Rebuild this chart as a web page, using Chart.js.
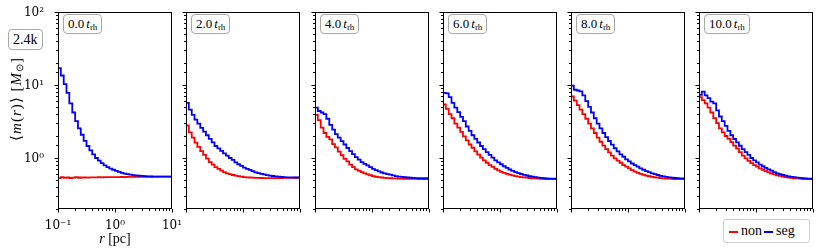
<!DOCTYPE html>
<html>
<head>
<meta charset="utf-8">
<script src="https://cdn.jsdelivr.net/npm/chart.js@4.4.1/dist/chart.umd.min.js"></script>
<style>
  html, body { margin: 0; padding: 0; background: #fff; }
  #fig { position: relative; width: 830px; height: 249px; overflow: hidden;
         font-family: 'Liberation Serif', serif; color: #000; }
  #fig canvas { position: absolute; top: 0; }
  .tag { position: absolute; top: 14px; height: 18px; line-height: 18px; padding: 0 4px;
         background: #fff; border: 1px solid #a8a8a8; border-radius: 4px;
         font-size: 13px; white-space: nowrap; }
  .tag sub { font-size: 9px; vertical-align: -2px; line-height: 0; }
  #nlabel { left: 8px; top: 29px; height: 19px; line-height: 19px; font-size: 14px; padding: 0 4px; }
  #ylabel { position: absolute; left: -44px; top: 91px; width: 120px; height: 16px; line-height: 16px;
            text-align: center; transform: rotate(-90deg); transform-origin: 50% 50%;
            font-size: 15px; letter-spacing: 1px; white-space: nowrap; }
  #ylabel sub { font-size: 10px; vertical-align: -2px; line-height: 0; }
  #xlabel { position: absolute; left: 75px; top: 231px; width: 80px; height: 16px; line-height: 16px;
            text-align: center; font-size: 14px; white-space: nowrap; }
  #legend { position: absolute; left: 723px; top: 219px; width: 82px; height: 22px; line-height: 22px;
            border: 1px solid #cfcfcf; border-radius: 3px; background: #fff; font-size: 14px;
            white-space: nowrap; padding-left: 3px; box-sizing: content-box; }
  #legend .sw { display: inline-block; width: 9px; height: 2px; vertical-align: middle; margin: 0 3px 0 2px; }
</style>
</head>
<body>
<div id="fig"></div>
<script>
// radial bin edges [pc]
const R_EDGES = [0.1, 0.112, 0.126, 0.141, 0.158, 0.178, 0.2, 0.224, 0.251, 0.282,
  0.316, 0.355, 0.398, 0.447, 0.501, 0.562, 0.631, 0.708, 0.794, 0.891,
  1, 1.12, 1.26, 1.41, 1.58, 1.78, 2, 2.24, 2.51, 2.82,
  3.16, 3.55, 3.98, 4.47, 5.01, 5.62, 6.31, 7.08, 7.94, 8.91, 10];

const TIMES = ['0.0', '2.0', '4.0', '6.0', '8.0', '10.0'];
const X_TICKS = [0.1, 1, 10];
const X_TICK_LABELS = ['10\u207B\u00B9', '10\u2070', '10\u00B9'];
const Y_TICKS = [1, 10, 100];
const Y_TICK_LABELS = ['10\u2070', '10\u00B9', '10\u00B2'];

// mean mass per bin, <m(r)> [Msun]
const NON_T0 = [0.54, 0.53, 0.545, 0.535, 0.54, 0.532, 0.538, 0.545, 0.536, 0.54,
  0.542, 0.538, 0.544, 0.541, 0.543, 0.545, 0.544, 0.546, 0.545, 0.547,
  0.546, 0.548, 0.547, 0.549, 0.548, 0.55, 0.55, 0.551, 0.551, 0.552,
  0.552, 0.553, 0.553, 0.553, 0.554, 0.554, 0.554, 0.554, 0.554, 0.554];
const SEG_T0 = [23, 17, 13.5, 10.3, 7.8, 5.6, 4.2, 3.2, 2.55, 2.08,
  1.72, 1.46, 1.27, 1.12, 1.0, 0.92, 0.85, 0.79, 0.75, 0.715,
  0.69, 0.665, 0.645, 0.627, 0.612, 0.6, 0.59, 0.582, 0.576, 0.571,
  0.567, 0.564, 0.561, 0.559, 0.557, 0.556, 0.555, 0.554, 0.554, 0.554];

const NON_T2 = [3.6, 2.8, 2.25, 1.9, 1.62, 1.42, 1.24, 1.1, 0.98, 0.88,
  0.81, 0.75, 0.71, 0.67, 0.64, 0.617, 0.6, 0.585, 0.573, 0.563,
  0.555, 0.548, 0.543, 0.54, 0.537, 0.535, 0.533, 0.532, 0.531, 0.53,
  0.53, 0.53, 0.531, 0.531, 0.532, 0.533, 0.534, 0.535, 0.535, 0.536];
const SEG_T2 = [6.9, 5.7, 4.6, 3.9, 3.35, 2.95, 2.58, 2.3, 2.05, 1.83,
  1.64, 1.46, 1.35, 1.25, 1.16, 1.08, 1.0, 0.94, 0.87, 0.82,
  0.78, 0.74, 0.71, 0.685, 0.66, 0.635, 0.62, 0.607, 0.595, 0.583,
  0.573, 0.566, 0.56, 0.555, 0.55, 0.547, 0.544, 0.542, 0.541, 0.54];

const NON_T4 = [4.6, 3.9, 3.3, 2.6, 2.2, 1.95, 1.8, 1.55, 1.4, 1.22,
  1.09, 0.97, 0.9, 0.81, 0.75, 0.7, 0.665, 0.64, 0.615, 0.595,
  0.58, 0.565, 0.553, 0.545, 0.54, 0.535, 0.531, 0.528, 0.526, 0.524,
  0.522, 0.52, 0.519, 0.518, 0.517, 0.516, 0.516, 0.515, 0.515, 0.515];
const SEG_T4 = [6.3, 4.9, 4.4, 4.2, 4.0, 3.45, 2.85, 2.45, 2.12, 1.9,
  1.7, 1.53, 1.37, 1.24, 1.13, 1.03, 0.95, 0.88, 0.83, 0.79,
  0.75, 0.71, 0.68, 0.655, 0.633, 0.615, 0.6, 0.59, 0.576, 0.565,
  0.556, 0.55, 0.545, 0.54, 0.536, 0.533, 0.531, 0.53, 0.529, 0.528];

const NON_T6 = [6.6, 5.4, 4.7, 4.0, 3.5, 2.95, 2.6, 2.28, 1.98, 1.74,
  1.53, 1.38, 1.23, 1.11, 1.01, 0.93, 0.86, 0.8, 0.755, 0.71,
  0.675, 0.645, 0.625, 0.607, 0.59, 0.576, 0.564, 0.555, 0.548, 0.542,
  0.537, 0.532, 0.528, 0.524, 0.521, 0.518, 0.516, 0.514, 0.513, 0.512];
const SEG_T6 = [8.7, 7.8, 7.7, 6.8, 5.7, 4.9, 4.25, 3.65, 3.2, 2.7,
  2.35, 2.05, 1.83, 1.63, 1.46, 1.32, 1.2, 1.1, 1.01, 0.93,
  0.87, 0.82, 0.77, 0.73, 0.695, 0.665, 0.64, 0.62, 0.603, 0.588,
  0.575, 0.565, 0.555, 0.546, 0.539, 0.533, 0.528, 0.525, 0.522, 0.52];

const NON_T8 = [8.3, 7.0, 6.1, 5.3, 4.6, 4.0, 3.45, 2.95, 2.55, 2.2,
  1.9, 1.67, 1.48, 1.32, 1.19, 1.08, 0.99, 0.92, 0.86, 0.8,
  0.76, 0.72, 0.68, 0.65, 0.625, 0.605, 0.588, 0.573, 0.562, 0.552,
  0.544, 0.537, 0.531, 0.527, 0.523, 0.52, 0.517, 0.515, 0.513, 0.512];
const SEG_T8 = [12.5, 9.8, 8.6, 8.4, 8.2, 7.2, 6.0, 5.0, 4.2, 3.5,
  2.95, 2.55, 2.2, 1.93, 1.71, 1.52, 1.36, 1.23, 1.12, 1.04,
  0.96, 0.9, 0.84, 0.8, 0.76, 0.72, 0.69, 0.66, 0.64, 0.615,
  0.6, 0.585, 0.57, 0.56, 0.55, 0.543, 0.537, 0.532, 0.529, 0.527];

const NON_T10 = [6.9, 6.8, 6.2, 5.6, 4.9, 4.2, 3.5, 3.0, 2.55, 2.25,
  2.0, 1.83, 1.65, 1.48, 1.34, 1.2, 1.08, 0.99, 0.91, 0.85,
  0.8, 0.76, 0.72, 0.69, 0.66, 0.635, 0.613, 0.595, 0.58, 0.567,
  0.556, 0.547, 0.54, 0.534, 0.528, 0.524, 0.52, 0.517, 0.515, 0.513];
const SEG_T10 = [9.6, 7.3, 8.1, 7.2, 6.6, 5.9, 5.6, 4.5, 3.7, 3.2,
  2.75, 2.35, 2.05, 1.82, 1.64, 1.47, 1.32, 1.2, 1.1, 1.0,
  0.93, 0.87, 0.81, 0.77, 0.73, 0.7, 0.67, 0.64, 0.615, 0.6,
  0.585, 0.572, 0.56, 0.552, 0.545, 0.538, 0.533, 0.528, 0.525, 0.522];

const NON = [NON_T0, NON_T2, NON_T4, NON_T6, NON_T8, NON_T10];
const SEG = [SEG_T0, SEG_T2, SEG_T4, SEG_T6, SEG_T8, SEG_T10];

/* ── layout ── */
const PANEL_LEFT = [58, 186, 315, 443, 571, 699];
const PANEL_W = 114, AXIS_W = 50, PAD_R = 16, TOP = 12, XAXIS_H = 40;
const FONT = { family: "'DejaVu Serif', serif", size: 12 };

function steps(vals) {
  const pts = vals.map((v, i) => ({ x: R_EDGES[i], y: v }));
  pts.push({ x: R_EDGES[vals.length], y: vals[vals.length - 1] });
  return pts;
}

function isDecade(v) {
  const l = Math.log10(v);
  return Math.abs(l - Math.round(l)) < 1e-6;
}

function tickLabel(list, labels) {
  return function (value) {
    const i = list.findIndex(t => Math.abs(t - value) / t < 1e-6);
    return i >= 0 ? labels[i] : '';
  };
}

/* ── frame + outward major/minor ticks, matplotlib style ── */
const frameTicks = {
  id: 'frameTicks',
  afterDraw(chart) {
    const { ctx, chartArea: a, scales } = chart;
    ctx.save();
    ctx.strokeStyle = '#000';
    ctx.lineWidth = 1;
    ctx.beginPath();
    scales.x.ticks.forEach(t => {
      const px = Math.round(scales.x.getPixelForValue(t.value)) + 0.5;
      const len = isDecade(t.value) ? 3.5 : 2;
      ctx.moveTo(px, a.bottom); ctx.lineTo(px, a.bottom + len);
    });
    scales.y.ticks.forEach(t => {
      const py = Math.round(scales.y.getPixelForValue(t.value)) + 0.5;
      const len = isDecade(t.value) ? 3.5 : 2;
      ctx.moveTo(a.left, py); ctx.lineTo(a.left - len, py);
    });
    ctx.stroke();
    ctx.strokeRect(Math.round(a.left) + 0.5, Math.round(a.top) + 0.5,
      Math.round(a.right - a.left) - 1, Math.round(a.bottom - a.top) - 1);
    ctx.restore();
  }
};

const fig = document.getElementById('fig');

PANEL_LEFT.forEach((left, p) => {
  const cv = document.createElement('canvas');
  cv.width = AXIS_W + PANEL_W + PAD_R;
  cv.height = 249;
  cv.style.left = (left - AXIS_W) + 'px';
  fig.appendChild(cv);

  const first = p === 0;
  new Chart(cv, {
    type: 'line',
    data: {
      datasets: [
        { label: 'seg', data: steps(SEG[p]), borderColor: '#0000ff', order: 0 },
        { label: 'non', data: steps(NON[p]), borderColor: '#ff0000', order: 1 },
      ],
    },
    options: {
      responsive: false,
      animation: false,
      elements: {
        line: { stepped: 'after', borderWidth: 1.8, fill: false, tension: 0 },
        point: { radius: 0, hoverRadius: 0 },
      },
      layout: { padding: { top: TOP, right: PAD_R, left: 0, bottom: 0 } },
      scales: {
        x: {
          type: 'logarithmic', min: 0.1, max: 10,
          grid: { display: false }, border: { display: false },
          ticks: {
            autoSkip: false, maxRotation: 0, padding: 2, color: '#000', font: FONT,
            callback: first ? tickLabel(X_TICKS, X_TICK_LABELS) : () => '',
          },
          afterFit(s) { s.height = XAXIS_H; s.paddingLeft = 0; s.paddingRight = 0; },
        },
        y: {
          type: 'logarithmic', min: 0.2, max: 100,
          grid: { display: false }, border: { display: false },
          ticks: {
            autoSkip: false, padding: 6, labelOffset: 1, color: '#000', font: FONT,
            callback: first ? tickLabel(Y_TICKS, Y_TICK_LABELS) : () => '',
          },
          afterFit(s) { s.width = AXIS_W; s.paddingTop = 0; s.paddingBottom = 0; },
        },
      },
      plugins: { legend: { display: false }, tooltip: { enabled: false } },
    },
    plugins: [frameTicks],
  });

  const tag = document.createElement('div');
  tag.className = 'tag';
  tag.style.left = (left + 5) + 'px';
  tag.innerHTML = TIMES[p] + '<span style="margin-left:2px"><i>t</i><sub>rh</sub></span>';
  fig.appendChild(tag);
});

fig.insertAdjacentHTML('beforeend',
  '<div class="tag" id="nlabel">2.4k</div>' +
  '<div id="ylabel">\u27E8<i>m</i>(<i>r</i>)\u27E9 [<i>M</i><sub>\u2299</sub>]</div>' +
  '<div id="xlabel"><i>r</i> [pc]</div>' +
  '<div id="legend"><span class="sw" style="background:#ff0000"></span>non' +
  '<span class="sw" style="background:#0000ff"></span>seg</div>');
</script>
</body>
</html>
